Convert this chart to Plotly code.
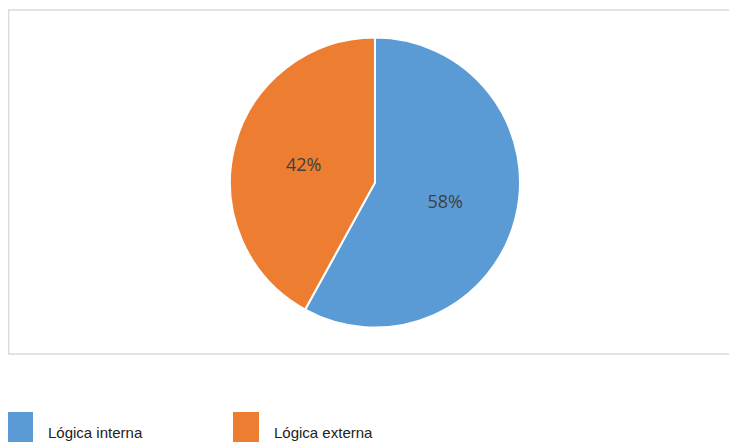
import plotly.graph_objects as go

labels = ["Lógica interna", "Lógica externa"]
values = [58, 42]
colors = ["#5B9BD5", "#ED7D31"]

W, H = 737, 444
OFF = 8  # page body margin offset

def px_x(x):
    return (x - OFF) / W

def px_y(y):
    return 1 - (y - OFF) / H

fig = go.Figure()
fig.add_trace(go.Pie(
    labels=labels,
    values=values,
    sort=False,
    direction="clockwise",
    rotation=0,
    marker=dict(colors=colors, line=dict(color="white", width=2)),
    textinfo="percent",
    texttemplate="%{percent:.0%}",
    textposition="inside",
    insidetextfont=dict(color="#404040", size=18, family="Open Sans"),
    domain=dict(x=[px_x(230), px_x(520)], y=[px_y(328), px_y(37)]),
    showlegend=False,
    hoverinfo="label+percent",
))

fig.add_shape(type="rect", xref="paper", yref="paper",
              x0=0.6 / W, x1=1.01, y0=px_y(354), y1=px_y(10),
              line=dict(color="#d9d9d9", width=1.5), fillcolor="rgba(0,0,0,0)",
              layer="below")

# legend drawn below the chart box: swatch + label for each category
STEP = 226
for i, (lab, col) in enumerate(zip(labels, colors)):
    sx = 7 + i * STEP
    fig.add_shape(type="rect", xref="paper", yref="paper",
                  x0=px_x(sx), x1=px_x(sx + 26), y0=px_y(442), y1=px_y(412),
                  line=dict(width=0), fillcolor=col)
    fig.add_annotation(xref="paper", yref="paper",
                       x=px_x(sx + 39), y=px_y(432), xanchor="left", yanchor="middle",
                       text=lab, showarrow=False,
                       font=dict(family="Liberation Sans", size=15, color="#222222"))

fig.update_layout(
    width=W, height=H,
    margin=dict(l=0, r=0, t=0, b=0),
    paper_bgcolor="white",
    plot_bgcolor="white",
    showlegend=False,
)

fig.write_html("out.html")
